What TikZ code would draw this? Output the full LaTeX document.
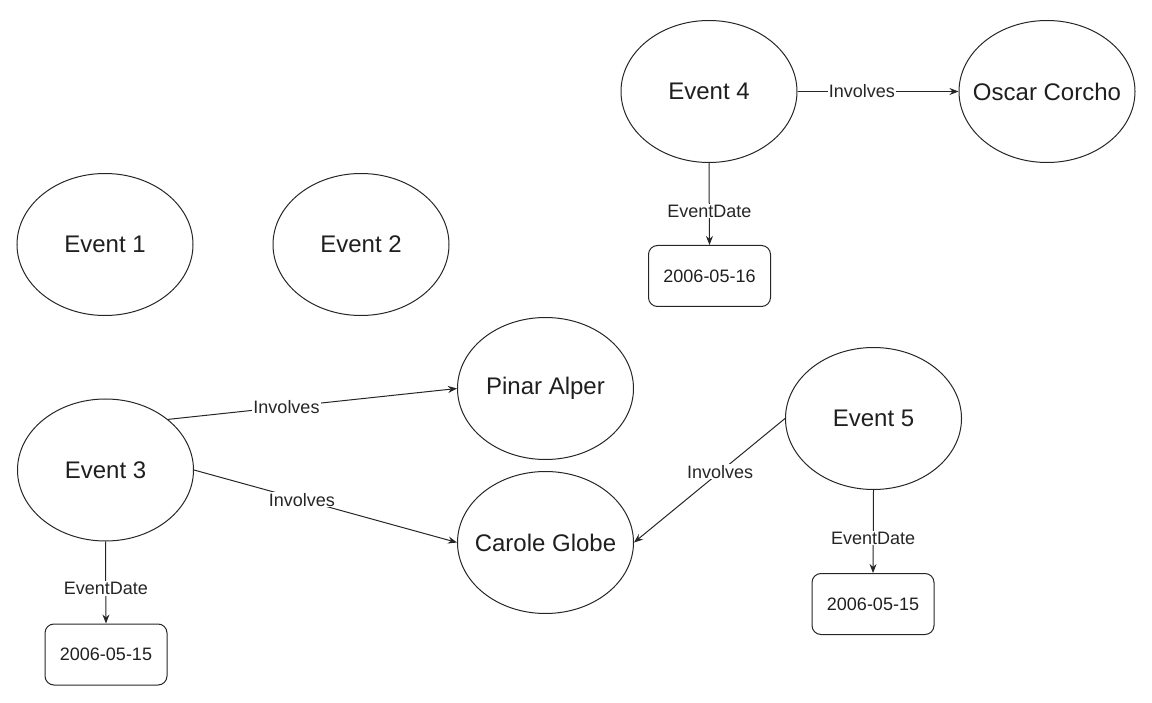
\documentclass[tikz,border=0pt]{standalone}
\usepackage{fontspec}
\setmainfont{Liberation Sans}
\usetikzlibrary{shapes.geometric,arrows.meta}
\newcommand{\nw}[1]{\makebox[0pt]{#1}}
\begin{document}
\begin{tikzpicture}[x=1pt,y=-1pt,
  ent/.style={draw=black!85, line width=1pt, ellipse, minimum width=176pt, minimum height=142pt, inner sep=0pt, text=black!88, font=\fontsize{24}{28}\selectfont},
  val/.style={draw=black!85, line width=1pt, rounded corners=9pt, minimum width=122pt, minimum height=61pt, inner sep=0pt, text=black!88, font=\fontsize{18}{22}\selectfont},
  rel/.style={draw=black!85, line width=1pt, -{Stealth[length=9pt,width=7pt]}},
  lbl/.style={fill=white, inner sep=1pt, text=black!85, font=\fontsize{18}{22}\selectfont}]
\useasboundingbox (0,0) rectangle (1152,703);

\node[ent] (e1) at (105,244.5) {\nw{Event 1}};
\node[ent] (e2) at (361,244.5) {\nw{Event 2}};
\node[ent] (e4) at (709,91.5) {\nw{Event 4}};
\node[ent] (oc) at (1047,91.5) {\nw{Oscar Corcho}};
\node[ent] (pa) at (545.5,388.5) {\nw{Pinar Alper}};
\node[ent] (e3) at (105.5,470) {\nw{Event 3}};
\node[ent] (cg) at (545.5,542.5) {\nw{Carole Globe}};
\node[ent] (e5) at (873.5,418.5) {\nw{Event 5}};

\node[val] (d4) at (709.5,276) {2006-05-16};
\node[val] (d3) at (106,654.5) {2006-05-15};
\node[val] (d5) at (873,604) {2006-05-15};

\draw[rel] (e4.east) -- node[lbl,pos=0.4] {Involves} (oc.west);
\draw[rel] (e4.south) -- node[lbl,pos=0.585] {EventDate} (d4.north);
\draw[rel] (e3.39) -- node[lbl,pos=0.41] {Involves} (pa.west);
\draw[rel] (e3.east) -- node[lbl,pos=0.41] {Involves} (cg.west);
\draw[rel] (e3.south) -- node[lbl,pos=0.57] {EventDate} (d3.north);
\draw[rel] (e5.west) -- node[lbl,pos=0.43] {Involves} (cg.east);
\draw[rel] (e5.south) -- node[lbl,pos=0.58] {EventDate} (d5.north);
\end{tikzpicture}
\end{document}
